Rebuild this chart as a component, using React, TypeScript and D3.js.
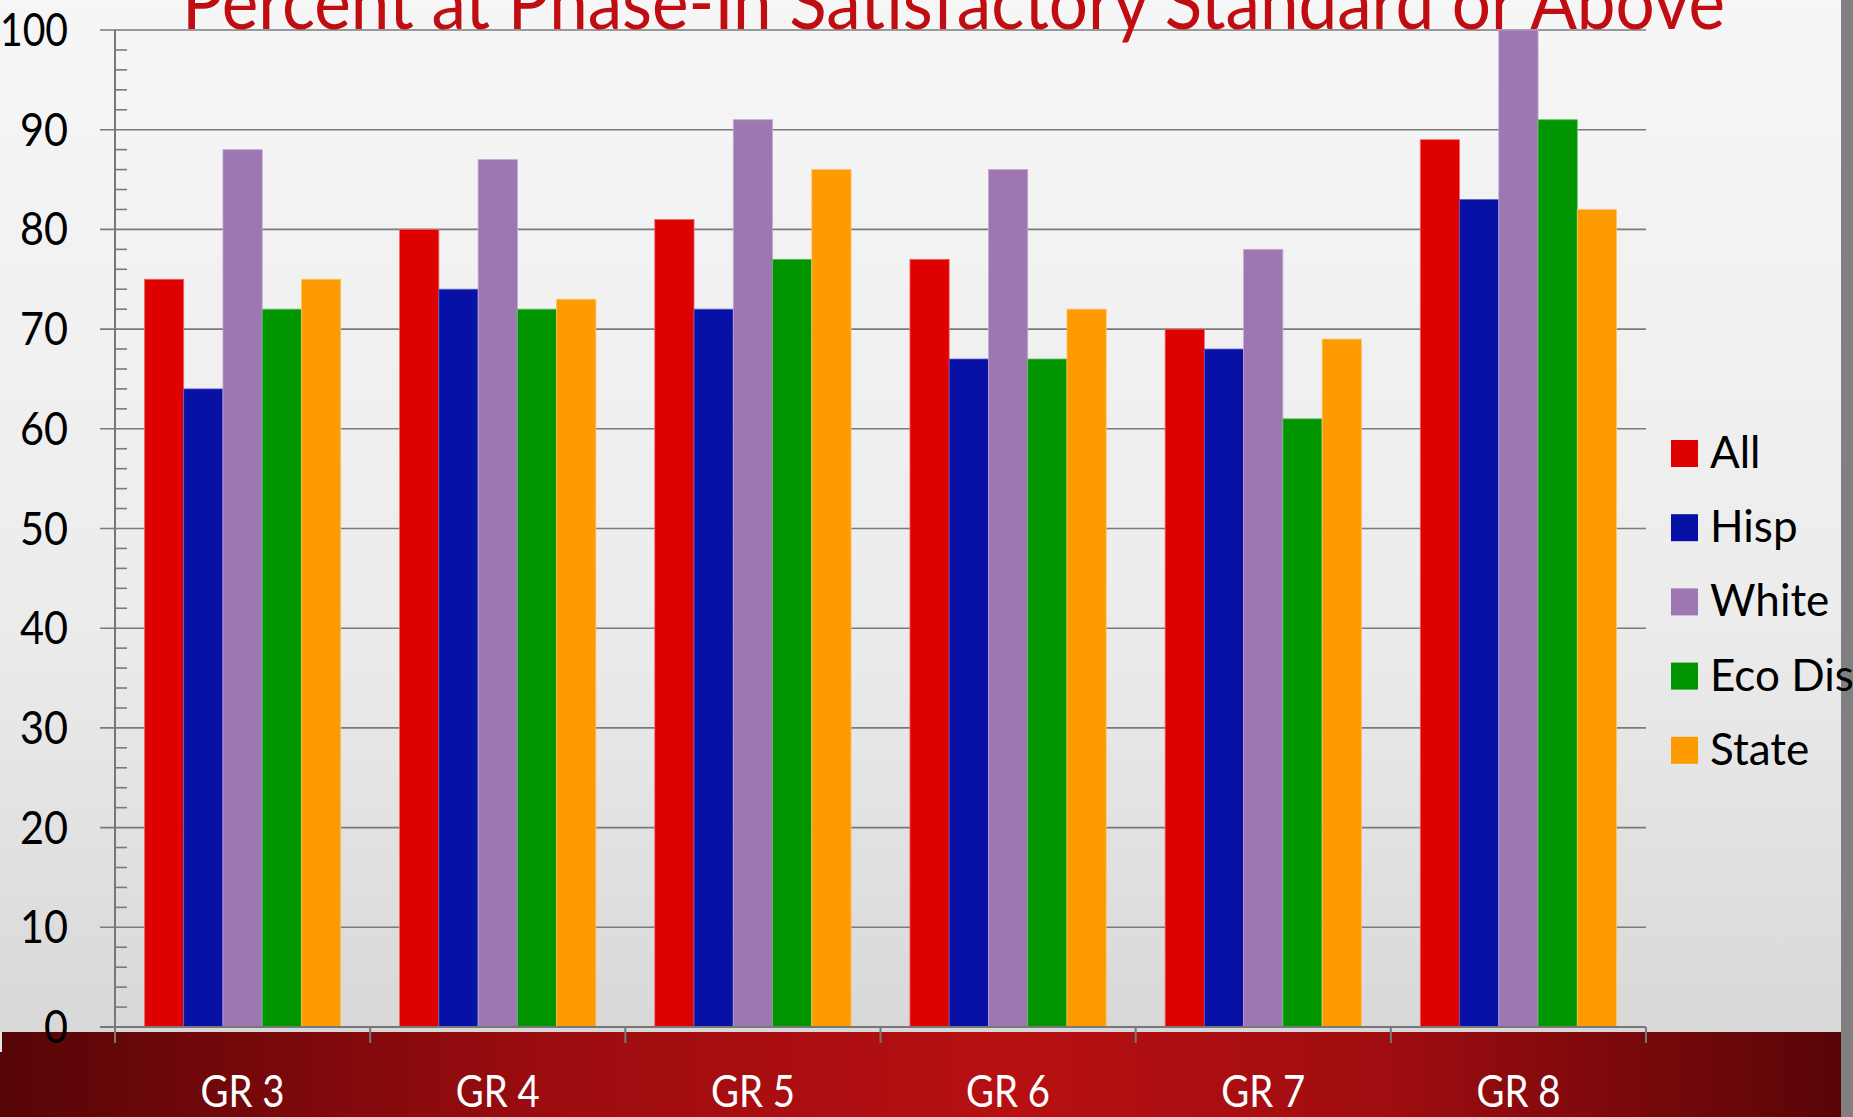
import React from "react";
import * as d3 from "d3";

const categories = ["GR 3", "GR 4", "GR 5", "GR 6", "GR 7", "GR 8"];
const seriesNames = ["All", "Hisp", "White", "Eco Dis", "State"];
const allValues = [75, 80, 81, 77, 70, 89];
const hispValues = [64, 74, 72, 67, 68, 83];
const whiteValues = [88, 87, 91, 86, 78, 100];
const ecoDisValues = [72, 72, 77, 67, 61, 91];
const stateValues = [75, 73, 86, 72, 69, 82];
const yTicks = [0, 10, 20, 30, 40, 50, 60, 70, 80, 90, 100];
const title = "Percent at Phase-In Satisfactory Standard or Above";

const seriesValues = [allValues, hispValues, whiteValues, ecoDisValues, stateValues];
const colors = ["#df0000", "#0811a6", "#9c77b2", "#019601", "#fe9b00"];
const strokes = ["#f06a6a", "#5a60cc", "#c2a9d2", "#5fc25f", "#ffc36a"];

const W = 1853;
const H = 1117;
const FONT = "Lato, 'Open Sans', 'DejaVu Sans', sans-serif";

export default function App() {
  const left = 115;
  const right = 1646;
  const top = 30;
  const bottom = 1027;

  const x0 = d3.scaleBand<string>().domain(categories).range([left, right]).padding(0);
  const bw = x0.bandwidth();
  const gap = (bw * 1.5) / 6.5;
  const x1 = d3
    .scaleBand<string>()
    .domain(seriesNames)
    .range([gap / 2, bw - gap / 2])
    .padding(0);
  const y = d3.scaleLinear().domain([0, 100]).range([bottom, top]);
  const minorTicks = d3.range(0, 101, 2).filter((v) => v % 10 !== 0);

  const bandTop = 1032;
  const catEdges = categories.map((c) => x0(c) as number).concat([right]);

  return (
    <svg
      width={W}
      height={H}
      style={{ position: "absolute", left: 0, top: 0, display: "block" }}
      xmlns="http://www.w3.org/2000/svg"
    >
      <defs>
        <linearGradient id="bg" x1="0" y1="0" x2="0" y2="1">
          <stop offset="0" stopColor="#f6f6f6" />
          <stop offset="0.55" stopColor="#ececec" />
          <stop offset="1" stopColor="#d4d4d4" />
        </linearGradient>
        <linearGradient id="band" x1="0" y1="0" x2="1" y2="0">
          <stop offset="0" stopColor="#560507" />
          <stop offset="0.3" stopColor="#9c0c0f" />
          <stop offset="0.55" stopColor="#b81013" />
          <stop offset="0.75" stopColor="#a00d10" />
          <stop offset="1" stopColor="#580507" />
        </linearGradient>
      </defs>
      <rect x={0} y={0} width={W} height={H} fill="url(#bg)" />
      <rect x={0} y={bandTop} width={1841} height={H - bandTop} fill="url(#band)" />
      <rect x={0} y={bandTop} width={2} height={20} fill="#e4e4e4" />
      <rect x={1841} y={0} width={W - 1841} height={H} fill="#808080" />

      {/* gridlines */}
      {yTicks.map((t) => (
        <line
          key={"g" + t}
          x1={100}
          x2={right}
          y1={y(t)}
          y2={y(t)}
          stroke="#7a7a7a"
          strokeWidth={1.6}
        />
      ))}
      {/* minor ticks */}
      {minorTicks.map((t) => (
        <line
          key={"m" + t}
          x1={left}
          x2={left + 12}
          y1={y(t)}
          y2={y(t)}
          stroke="#7a7a7a"
          strokeWidth={1.6}
        />
      ))}

      {/* bars */}
      {categories.map((c, ci) => (
        <g key={c} transform={`translate(${x0(c)},0)`}>
          {seriesNames.map((s, si) => {
            const v = seriesValues[si][ci];
            return (
              <rect
                key={s}
                x={x1(s) as number}
                y={y(v)}
                width={x1.bandwidth()}
                height={y(0) - y(v)}
                fill={colors[si]}
                stroke={strokes[si]}
                strokeWidth={0.8}
              />
            );
          })}
        </g>
      ))}

      {/* axes */}
      <line x1={left} x2={left} y1={top} y2={1043} stroke="#777" strokeWidth={2} />
      <line x1={100} x2={right} y1={bottom} y2={bottom} stroke="#777" strokeWidth={2} />
      {catEdges.map((e, i) => (
        <line key={"xt" + i} x1={e} x2={e} y1={bottom} y2={1043} stroke="#777" strokeWidth={2} />
      ))}

      {/* y labels */}
      {yTicks.map((t) => {
        const label = String(t);
        const len = label.length === 3 ? 68 : label.length * 24;
        return (
          <text
            key={"yl" + t}
            x={68}
            y={y(t) + 16}
            textAnchor="end"
            fontFamily={FONT}
            fontSize={46}
            fill="#000"
            textLength={len}
            lengthAdjust="spacingAndGlyphs"
          >
            {label}
          </text>
        );
      })}

      {/* x labels */}
      {categories.map((c) => (
        <text
          key={"xl" + c}
          x={(x0(c) as number) + bw / 2}
          y={1107}
          textAnchor="middle"
          fontFamily={FONT}
          fontSize={45}
          fill="#ffffff"
          textLength={84}
          lengthAdjust="spacingAndGlyphs"
        >
          {c}
        </text>
      ))}

      {/* legend */}
      {seriesNames.map((s, i) => {
        const ty = 440 + i * 74.2;
        return (
          <g key={"lg" + s}>
            <rect x={1671} y={ty} width={27} height={27} fill={colors[i]} />
            <text x={1710} y={ty + 28} fontFamily={FONT} fontSize={44} fill="#000">
              {s}
            </text>
          </g>
        );
      })}

      {/* title */}
      <text
        x={182}
        y={29}
        fontFamily={FONT}
        fontSize={76}
        fill="#c00d12"
        textLength={1543}
        lengthAdjust="spacingAndGlyphs"
      >
        {title}
      </text>
    </svg>
  );
}
